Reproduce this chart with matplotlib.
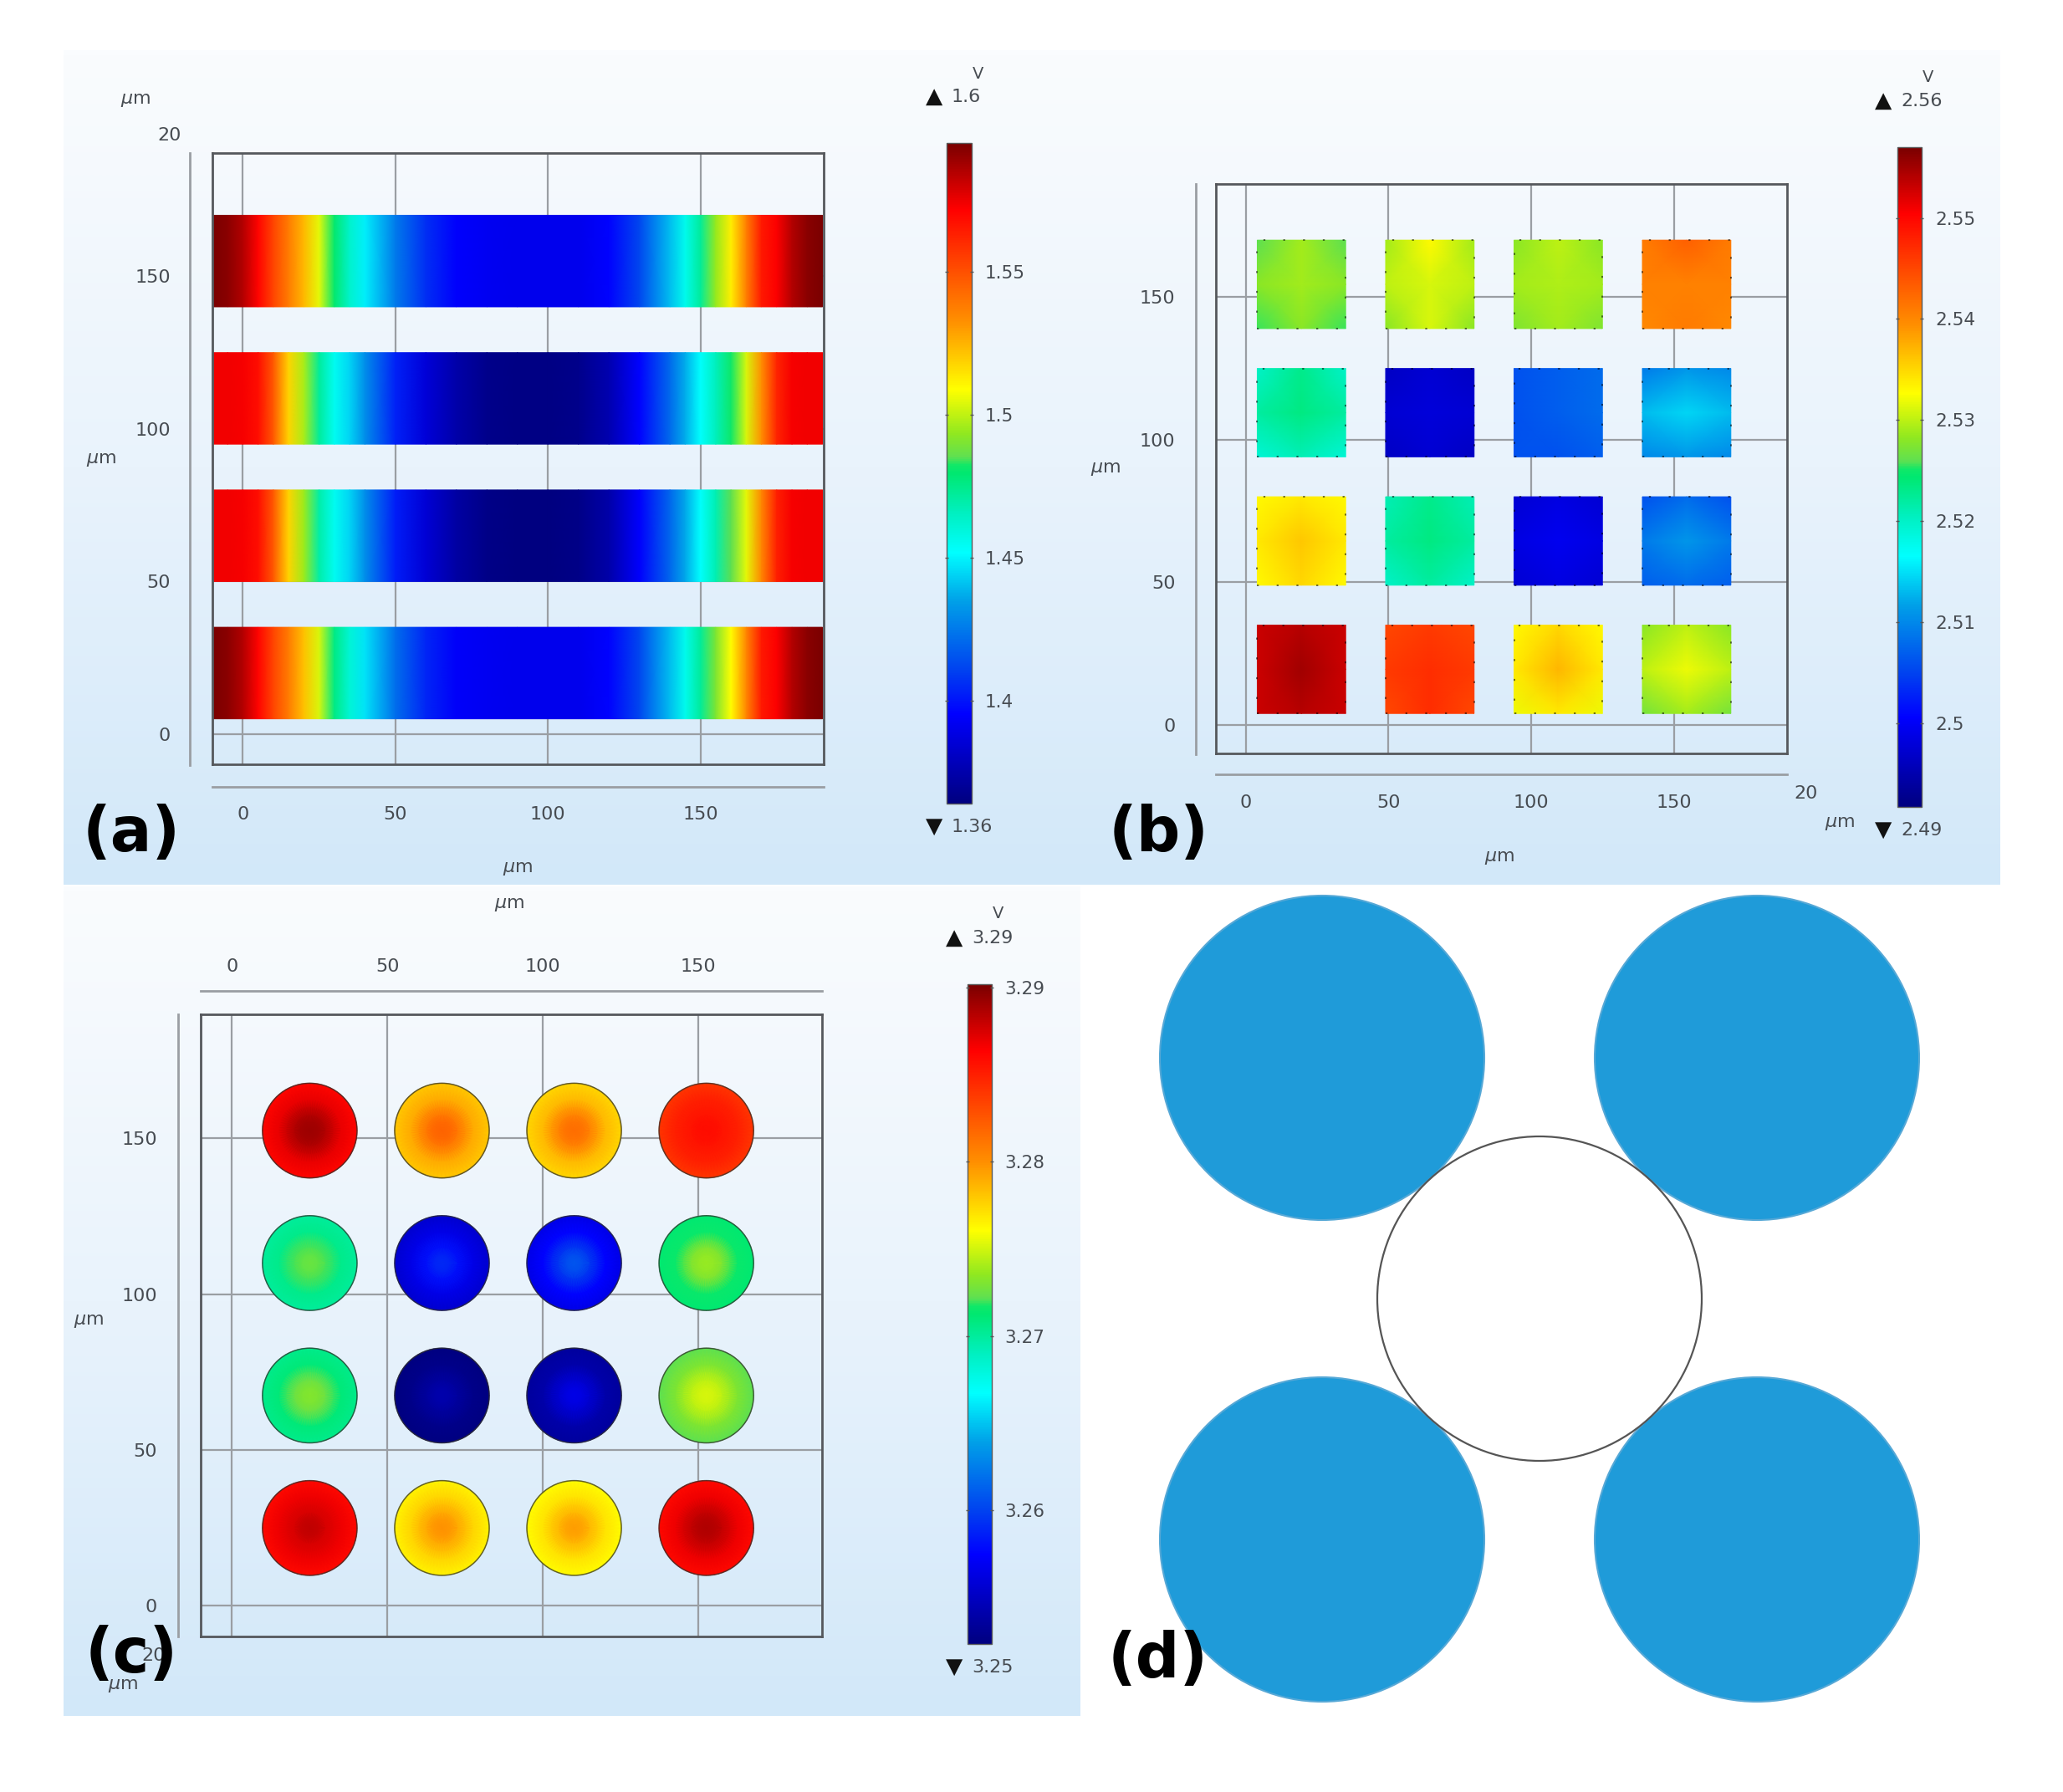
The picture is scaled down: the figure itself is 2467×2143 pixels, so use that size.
import numpy as np
import matplotlib
matplotlib.use("Agg")
import matplotlib.pyplot as plt
from matplotlib.cm import ScalarMappable
from matplotlib.colors import LinearSegmentedColormap, Normalize
from matplotlib.patches import Circle
from matplotlib.transforms import ScaledTranslation

W, H = 2467, 2143

# panel a: voltage along x for each strip (bottom strip first)
strip_x = [-10, -5, 0, 5, 10, 15, 20, 25, 30, 35, 40, 50, 60, 70, 80, 90, 100,
           110, 120, 130, 140, 145, 150, 155, 160, 165, 170, 175, 180, 185, 190]
strip_bottoms = [5, 50, 95, 140]
strip_height = 30
strip_1 = [1.595, 1.592, 1.585, 1.571, 1.553, 1.538, 1.522, 1.503, 1.476, 1.461, 1.447, 1.422, 1.404, 1.394, 1.392, 1.391,
           1.391, 1.391, 1.396, 1.412, 1.44, 1.456, 1.472, 1.49, 1.509, 1.535, 1.565, 1.572, 1.585, 1.592, 1.595]
strip_2 = [1.574, 1.574, 1.573, 1.568, 1.548, 1.518, 1.495, 1.47, 1.455, 1.444, 1.43, 1.402, 1.385, 1.373, 1.366, 1.364,
           1.364, 1.366, 1.374, 1.395, 1.42, 1.436, 1.452, 1.468, 1.485, 1.505, 1.535, 1.563, 1.573, 1.574, 1.574]
strip_3 = [1.574, 1.574, 1.573, 1.568, 1.548, 1.518, 1.497, 1.472, 1.455, 1.444, 1.43, 1.403, 1.386, 1.374, 1.367, 1.365,
           1.365, 1.367, 1.376, 1.396, 1.421, 1.437, 1.452, 1.466, 1.482, 1.503, 1.533, 1.562, 1.573, 1.574, 1.574]
strip_4 = [1.595, 1.592, 1.585, 1.571, 1.553, 1.538, 1.524, 1.505, 1.48, 1.463, 1.449, 1.425, 1.406, 1.395, 1.392, 1.391,
           1.391, 1.391, 1.396, 1.412, 1.44, 1.456, 1.472, 1.494, 1.512, 1.537, 1.565, 1.572, 1.585, 1.592, 1.595]
strips = [strip_1, strip_2, strip_3, strip_4]
a_clim = (1.364, 1.595)
a_ticks = [1.4, 1.45, 1.5, 1.55]
a_ticklabels = ["1.4", "1.45", "1.5", "1.55"]

# panel b: 3x3 voltages per square, rows listed from y=4 up, each cell bottom row first
square_starts = [4, 49, 94, 139]
square_size = 31
squares = [
    [[[2.553, 2.554, 2.553], [2.553, 2.555, 2.553], [2.553, 2.554, 2.553]],
     [[2.545, 2.547, 2.545], [2.546, 2.547, 2.546], [2.545, 2.546, 2.545]],
     [[2.532, 2.534, 2.532], [2.534, 2.537, 2.534], [2.533, 2.535, 2.533]],
     [[2.527, 2.529, 2.527], [2.530, 2.532, 2.530], [2.528, 2.530, 2.528]]],
    [[[2.533, 2.535, 2.533], [2.534, 2.536, 2.534], [2.533, 2.534, 2.533]],
     [[2.520, 2.522, 2.520], [2.522, 2.5235, 2.522], [2.521, 2.523, 2.521]],
     [[2.4975, 2.4985, 2.4975], [2.4985, 2.4995, 2.4985], [2.4975, 2.4985, 2.4975]],
     [[2.507, 2.508, 2.507], [2.509, 2.511, 2.509], [2.506, 2.508, 2.506]]],
    [[[2.519, 2.521, 2.519], [2.522, 2.5235, 2.522], [2.520, 2.523, 2.520]],
     [[2.4965, 2.4975, 2.4965], [2.4975, 2.498, 2.4975], [2.4965, 2.4975, 2.4965]],
     [[2.506, 2.506, 2.507], [2.506, 2.507, 2.508], [2.506, 2.507, 2.508]],
     [[2.510, 2.511, 2.510], [2.513, 2.5145, 2.513], [2.509, 2.511, 2.510]]],
    [[[2.5255, 2.528, 2.5255], [2.528, 2.529, 2.528], [2.526, 2.529, 2.526]],
     [[2.528, 2.531, 2.528], [2.530, 2.531, 2.530], [2.529, 2.533, 2.529]],
     [[2.5275, 2.529, 2.5275], [2.529, 2.5295, 2.529], [2.528, 2.530, 2.528]],
     [[2.540, 2.541, 2.540], [2.5405, 2.5405, 2.5405], [2.541, 2.543, 2.541]]],
]
b_clim = (2.4917, 2.557)
b_ticks = [2.5, 2.51, 2.52, 2.53, 2.54, 2.55]
b_ticklabels = ["2.5", "2.51", "2.52", "2.53", "2.54", "2.55"]

# panel c: voltage from centre to rim per disc, rows from the bottom up
disc_x = [25, 67.5, 110, 152.5]
disc_y = [25, 67.5, 110, 152.5]
disc_radius = 15.2
disc_r_frac = [0, 0.33, 0.66, 1]
discs = [
    [[3.2885, 3.2875, 3.2868, 3.286], [3.2805, 3.279, 3.2775, 3.2765], [3.280, 3.2785, 3.277, 3.2762], [3.289, 3.288, 3.2868, 3.286]],
    [[3.2735, 3.2725, 3.271, 3.2705], [3.2545, 3.2535, 3.2527, 3.2523], [3.257, 3.2555, 3.254, 3.2535], [3.2755, 3.2745, 3.273, 3.2722]],
    [[3.273, 3.272, 3.2705, 3.270], [3.2595, 3.258, 3.2565, 3.2555], [3.2615, 3.2595, 3.2575, 3.2565], [3.274, 3.273, 3.2715, 3.2712]],
    [[3.2895, 3.2885, 3.287, 3.2862], [3.2825, 3.281, 3.279, 3.278], [3.282, 3.2805, 3.2785, 3.2775], [3.286, 3.2855, 3.285, 3.284]],
]
c_clim = (3.2523, 3.2902)
c_ticks = [3.26, 3.27, 3.28, 3.29]
c_ticklabels = ["3.26", "3.27", "3.28", "3.29"]

# panel d: schematic, units are arbitrary
d_blue_x = [-260, 260, -260, 260]
d_blue_y = [288, 288, -288, -288]
d_radius = 194

grid_ticks = [0, 50, 100, 150]
grid_ticklabels = ["0", "50", "100", "150"]

# rainbow, with its small step inside the green
rainbow = LinearSegmentedColormap.from_list("rainbow_bar", [
    (0, "#000080"), (0.135, "#0000ff"), (0.2, "#0040f0"), (0.306, "#00a0e8"), (0.38, "#00ffff"),
    (0.44, "#00f0c0"), (0.50, "#00e870"), (0.512, "#10e868"), (0.525, "#60e050"), (0.56, "#90e820"),
    (0.627, "#ffff00"), (0.73, "#ff9000"), (0.90, "#ff0000"), (1, "#7a0000")], N=512)

text_col = "#474c52"
frame_col = "#55585c"
grid_col = "#9a9ea3"
unit = r"$\mu$m"
tick_fs = 16

fig = plt.figure(figsize=(W / 100, H / 100), dpi=100, facecolor="white")


def px_axes(left, top, right, bottom, **kw):
    return fig.add_axes([left / W, 1 - bottom / H, (right - left) / W, (bottom - top) / H], **kw)


def px_text(x, y, s, ha="center", size=tick_fs, **kw):
    fig.text(x / W, 1 - y / H, s, ha=ha, va="center", fontsize=size, color=kw.pop("color", text_col), **kw)


# gradient backgrounds
bg = px_axes(0, 0, W, H, zorder=-5)
bg.axis("off")
bg_cmap = LinearSegmentedColormap.from_list("bg", ["#fafcfe", "#e9f3fc", "#d2e8f9"])
for x0, x1, y0, y1 in [(76, 1275, 60, 1058), (1275, 2392, 60, 1058), (76, 1292, 1060, 2052)]:
    bg.imshow(np.linspace(0, 1, 256).reshape(-1, 1), extent=(x0, x1, y1, y0), cmap=bg_cmap,
              aspect="auto", interpolation="bilinear", vmin=0, vmax=1)
bg.set_xlim(0, W)
bg.set_ylim(H, 0)


def plot_frame(box, xlim, ylim, label_dx=0, label_dy=0):
    ax = px_axes(*box)
    ax.patch.set_alpha(0)
    ax.set_xlim(*xlim)
    ax.set_ylim(*ylim)
    for s in ax.spines.values():
        s.set_color(frame_col)
        s.set_linewidth(2)
    ax.set_xticks(grid_ticks)
    ax.set_yticks(grid_ticks)
    ax.grid(True, color=grid_col, lw=1.6)
    ax.set_axisbelow(True)
    ax.tick_params(length=0, labelsize=tick_fs, labelcolor=text_col)
    ax.set_xticklabels(grid_ticklabels)
    ax.set_yticklabels(grid_ticklabels)
    if label_dx:
        for lbl in ax.get_xticklabels():
            lbl.set_transform(lbl.get_transform() + ScaledTranslation(label_dx / 100, 0, fig.dpi_scale_trans))
    if label_dy:
        for lbl in ax.get_yticklabels():
            lbl.set_transform(lbl.get_transform() + ScaledTranslation(0, label_dy / 100, fig.dpi_scale_trans))
    return ax


def add_cbar(box, clim, ticks, labels):
    cax = px_axes(*box)
    sm = ScalarMappable(norm=Normalize(*clim), cmap=rainbow)
    cb = fig.colorbar(sm, cax=cax, ticks=ticks)
    cb.ax.set_yticklabels(labels)
    cb.ax.tick_params(length=3, width=1, direction="inout", pad=10, labelsize=tick_fs - 0.5,
                      labelcolor=text_col, color="#555555", left=True)
    cb.outline.set_edgecolor("#5a5a5a")
    cb.outline.set_linewidth(1)


def side_lines(vline=None, hline=None):
    if vline:
        bg.plot([vline[0], vline[0]], [vline[1], vline[2]], color=grid_col, lw=2)
    if hline:
        bg.plot([hline[1], hline[2]], [hline[0], hline[0]], color=grid_col, lw=2)


def limit_text(x, y, value, bar_x, up):
    px_text(bar_x, y, "▲" if up else "▼", size=19, color="#111111")
    px_text(x, y, value, ha="left")


# (a)
ax_a = plot_frame((254, 183, 985, 914), (-10, 190.4), (-9.9, 190.4))
ax_a.tick_params(axis="x", pad=36)
ax_a.tick_params(axis="y", pad=36)
for y0, vals in zip(strip_bottoms, strips):
    xx, yy = np.meshgrid(strip_x, [y0, y0 + strip_height])
    ax_a.pcolormesh(xx, yy, np.array([vals, vals]), shading="gouraud", cmap=rainbow,
                    vmin=a_clim[0], vmax=a_clim[1], zorder=2)
ax_a.set_xlim(-10, 190.4)
ax_a.set_ylim(-9.9, 190.4)
side_lines((227, 183, 915), (941, 254, 985))
add_cbar((1132, 171, 1162, 961), a_clim, a_ticks, a_ticklabels)
px_text(1170, 88, "V", size=14)
limit_text(1138, 116, "1.6", 1117, True)
limit_text(1138, 989, "1.36", 1117, False)
px_text(217, 162, "20", ha="right")
px_text(162, 120, unit, size=16)
px_text(121, 550, unit, size=16)
px_text(619, 1039, unit, size=16)
px_text(157, 997, "(a)", size=53, fontweight="bold", color="black")

# (b)
ax_b = plot_frame((1454, 220, 2137, 901), (-10.5, 189.7), (-10, 189.7), label_dx=-3, label_dy=-3)
ax_b.tick_params(axis="x", pad=35)
ax_b.tick_params(axis="y", pad=35)
for i, y0 in enumerate(square_starts):
    for j, x0 in enumerate(square_starts):
        xs = [x0, x0 + square_size / 2, x0 + square_size]
        ys = [y0, y0 + square_size / 2, y0 + square_size]
        xx, yy = np.meshgrid(xs, ys)
        ax_b.pcolormesh(xx, yy, np.array(squares[i][j]), shading="gouraud", cmap=rainbow,
                        vmin=b_clim[0], vmax=b_clim[1], zorder=2)
        ax_b.plot([x0, x0 + square_size, x0 + square_size, x0, x0],
                  [y0, y0, y0 + square_size, y0 + square_size, y0],
                  color="black", lw=1.1, ls=(0, (1.5, 14)), alpha=0.7, zorder=3)
side_lines((1430, 220, 902), (926, 1454, 2137))
add_cbar((2269, 176, 2298, 965), b_clim, b_ticks, b_ticklabels)
px_text(2306, 92, "V", size=14)
limit_text(2273, 121, "2.56", 2252, True)
limit_text(2273, 993, "2.49", 2252, False)
px_text(2160, 949, "20")
px_text(2200, 985, unit, size=16)
px_text(1793, 1026, unit, size=16)
px_text(1322, 561, unit, size=16)
px_text(1386, 997, "(b)", size=53, fontweight="bold", color="black")

# (c)
ax_c = plot_frame((239.5, 1213, 983, 1957), (-10.2, 189.7), (-9.8, 189.8))
ax_c.tick_params(axis="x", top=False, bottom=False, labeltop=True, labelbottom=False, pad=34)
ax_c.tick_params(axis="y", pad=37)
theta = np.linspace(0, 2 * np.pi, 73)
for i, cy in enumerate(disc_y):
    for j, cx in enumerate(disc_x):
        rr, tt = np.meshgrid(np.array(disc_r_frac) * disc_radius, theta)
        xx = cx + rr * np.cos(tt)
        yy = cy + rr * np.sin(tt)
        cc = np.tile(discs[i][j], (len(theta), 1))
        ax_c.pcolormesh(xx, yy, cc, shading="gouraud", cmap=rainbow, vmin=c_clim[0], vmax=c_clim[1], zorder=2)
        ax_c.add_patch(Circle((cx, cy), disc_radius, fill=False, ec="#30302a", lw=1.1, alpha=0.75, zorder=3))
side_lines((212.6, 1213, 1957), (1185, 239.5, 983))
add_cbar((1157, 1177, 1185.5, 1966), c_clim, c_ticks, c_ticklabels)
px_text(1194, 1092, "V", size=14)
limit_text(1162, 1122, "3.29", 1141, True)
limit_text(1162, 1994, "3.25", 1141, False)
px_text(198, 1980, "20", ha="right")
px_text(147, 2016, unit, size=16)
px_text(609, 1082, unit, size=16)
px_text(106, 1580, unit, size=16)
px_text(157, 1979, "(c)", size=53, fontweight="bold", color="black")

# (d)
ax_d = px_axes(1292, 1060, 2392, 2052)
ax_d.set_xlim(-549, 551)
ax_d.set_ylim(-499, 493)
ax_d.axis("off")
for cx, cy in zip(d_blue_x, d_blue_y):
    ax_d.add_patch(Circle((cx, cy), d_radius, fc="#1f9bd9", ec="#56a8d6", lw=1.5))
ax_d.add_patch(Circle((0, 0), d_radius, fc="white", ec="#555555", lw=1.6))
px_text(1385, 1985, "(d)", size=53, fontweight="bold", color="black")

fig.savefig("out.png", dpi=100)
